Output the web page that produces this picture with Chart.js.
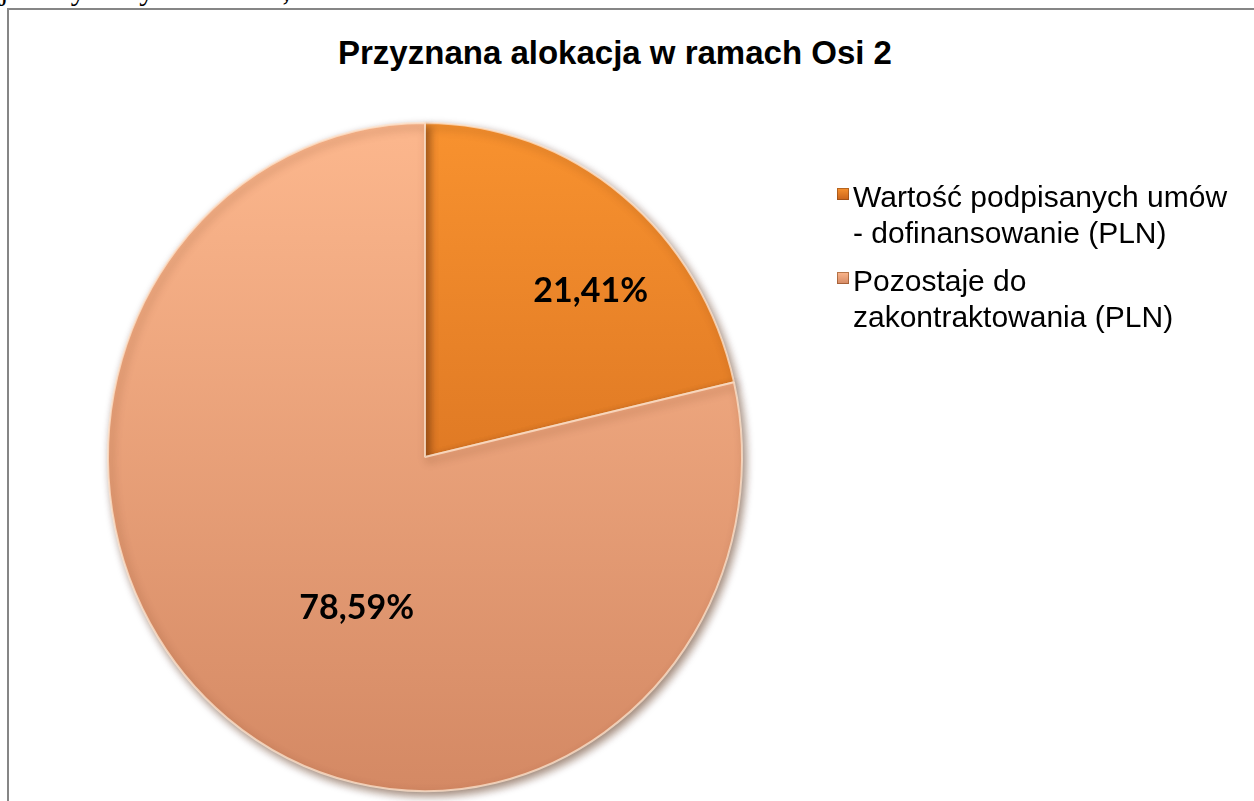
<!DOCTYPE html>
<html lang="pl">
<head>
<meta charset="utf-8">
<title>Przyznana alokacja w ramach Osi 2</title>
<script src="https://cdn.jsdelivr.net/npm/chart.js@4.4.1/dist/chart.umd.min.js"></script>
<style>
    html, body { margin: 0; padding: 0; background: #fff; overflow: hidden; }
    #page { position: relative; width: 1254px; height: 801px; overflow: hidden; }
    #lead { position: absolute; left: 0; top: -27px; font: 30px 'Liberation Serif', 'Times New Roman', serif; color: #000; white-space: nowrap; }
    #frame { position: absolute; left: 7px; top: 8px; width: 1300px; height: 900px; border: 2px solid #868686; box-sizing: border-box; }
    #title { position: absolute; left: 0; top: 34px; width: 1230px; text-align: center; font: bold 33px 'Liberation Sans', Arial, sans-serif; color: #000; }
    canvas { position: absolute; left: 0; top: 0; }
</style>
</head>
<body>
<div id="page">
    <div id="lead">jest wykorzystana w 21,41%.</div>
    <div id="frame"></div>
    <div id="title">Przyznana alokacja w ramach Osi 2</div>
    <canvas id="allocChart" width="1254" height="801"></canvas>
</div>
<script>
'use strict';

// dane z wykresu (udzial w alokacji, %)
var labels = [
    ['Wartość podpisanych umów', '- dofinansowanie (PLN)'],
    ['Pozostaje do', 'zakontraktowania (PLN)']
];
var shares = [21.41, 78.59];

// kolory wycinkow: gora -> dol
var topColors = ['#f8922f', '#fcb78d'];
var bottomColors = ['#c8621a', '#d48964'];

var ELLIPSE = 1.054; // lekko splaszczone kolo jak w Excelu

function sliceGradient(context) {
    var chart = context.chart;
    var area = chart.chartArea;
    var i = context.dataIndex;
    if (!area) return topColors[i];
    var g = chart.ctx.createLinearGradient(0, area.top, 0, area.bottom);
    g.addColorStop(0, topColors[i]);
    g.addColorStop(1, bottomColors[i]);
    return g;
}

var pieDecor = {
    id: 'pieDecor',
    beforeDatasetsDraw: function (chart) {
        var arc = chart.getDatasetMeta(0).data[0];
        var ctx = chart.ctx;
        ctx.save();
        ctx.translate(arc.x, arc.y);
        ctx.scale(1, ELLIPSE);
        ctx.translate(-arc.x, -arc.y);
        ctx.shadowColor = 'rgba(80, 35, 10, 0.55)';
        ctx.shadowBlur = 8;
        ctx.shadowOffsetX = 3;
        ctx.shadowOffsetY = 4;
    },
    afterDatasetsDraw: function (chart, args, opts) {
        var ctx = chart.ctx;
        ctx.restore();

        // etykiety procentowe
        var meta = chart.getDatasetMeta(0);
        ctx.save();
        ctx.font = 'bold 34px Lato, "Open Sans", sans-serif';
        ctx.fillStyle = '#000';
        ctx.textAlign = 'center';
        ctx.textBaseline = 'middle';
        meta.data.forEach(function (arc, i) {
            var place = opts.labelPlace[i];
            var a = (arc.startAngle + arc.endAngle) / 2 + place.shift * Math.PI / 180;
            var r = arc.outerRadius * place.frac;
            var x = arc.x + Math.cos(a) * r;
            var y = arc.y + Math.sin(a) * r * ELLIPSE;
            var txt = shares[i].toFixed(2).replace('.', ',') + '%';
            ctx.fillText(txt, x, y);
        });
        ctx.restore();

        // legenda po prawej
        var lg = opts.legend;
        var y = lg.top;
        ctx.save();
        ctx.font = '30px "Liberation Sans", Arial, sans-serif';
        ctx.textBaseline = 'alphabetic';
        ctx.textAlign = 'left';
        labels.forEach(function (lines, i) {
            var g = ctx.createLinearGradient(0, y - 19, 0, y - 7);
            g.addColorStop(0, topColors[i]);
            g.addColorStop(1, bottomColors[i]);
            ctx.fillStyle = g;
            ctx.fillRect(lg.boxX, y - 19, 12, 12);
            ctx.strokeStyle = 'rgba(130, 65, 20, 0.55)';
            ctx.lineWidth = 1;
            ctx.strokeRect(lg.boxX + 0.5, y - 18.5, 11, 11);
            ctx.fillStyle = '#000';
            lines.forEach(function (line, k) {
                ctx.fillText(line, lg.textX, y + k * lg.lineStep);
            });
            y += lines.length * lg.lineStep + lg.gap;
        });
        ctx.restore();
    }
};

var ctx = document.getElementById('allocChart').getContext('2d');

var allocChart = new Chart(ctx, {
    type: 'pie',
    data: {
        labels: labels,
        datasets: [{
            data: shares,
            backgroundColor: sliceGradient,
            borderColor: 'rgba(255, 228, 205, 0.75)',
            borderWidth: 2,
            radius: 317
        }]
    },
    options: {
        responsive: false,
        animation: false,
        layout: {
            padding: { left: 100, right: 504, top: 140, bottom: 27 }
        },
        plugins: {
            legend: { display: false },
            title: { display: false },
            tooltip: { enabled: false },
            pieDecor: {
                labelPlace: [
                    { frac: 0.72, shift: 8 },
                    { frac: 0.50, shift: -13 }
                ],
                legend: { boxX: 837, textX: 853, top: 207, lineStep: 36, gap: 12 }
            }
        }
    },
    plugins: [pieDecor]
});
</script>
</body>
</html>
